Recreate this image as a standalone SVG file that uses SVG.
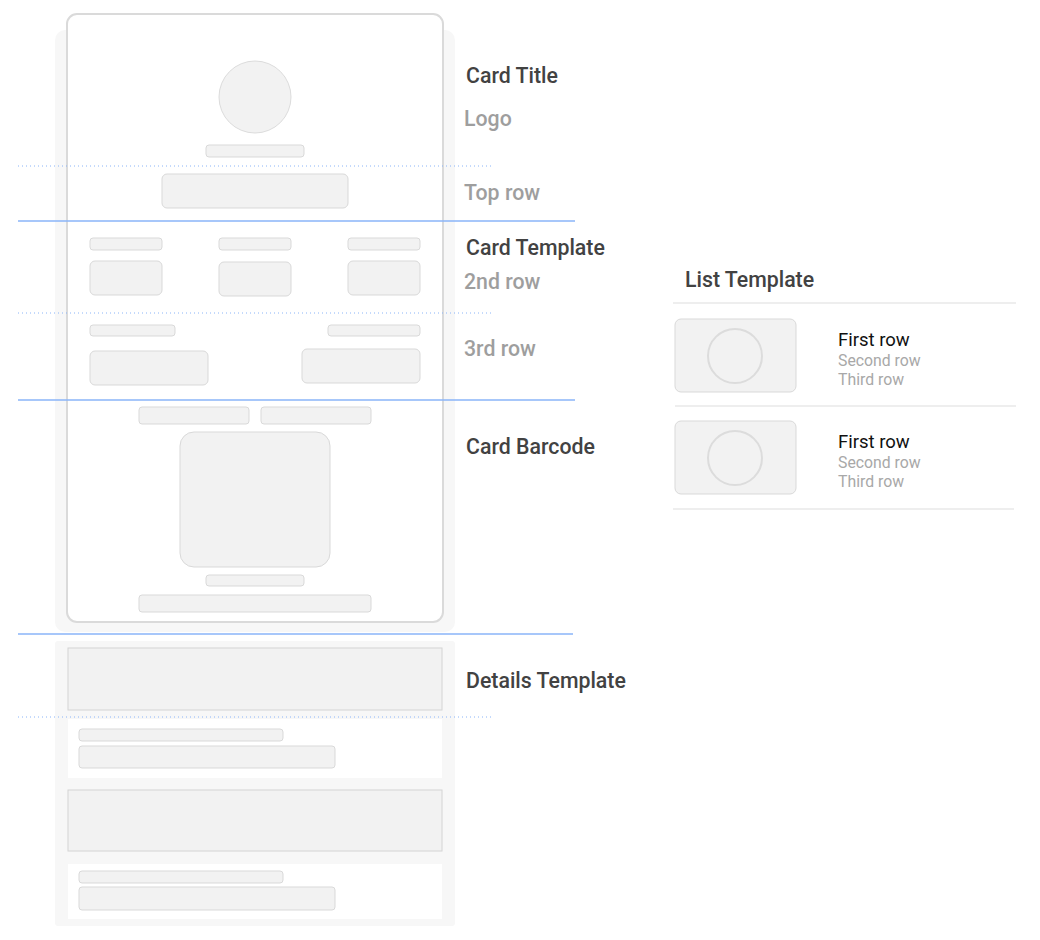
<svg xmlns="http://www.w3.org/2000/svg" width="1040" height="940" viewBox="0 0 1040 940">
<style>
.panel{fill:#f7f7f7}
.card{fill:#fff;stroke:#dadada;stroke-width:2}
.ph{fill:#f2f2f2;stroke:#d9d9d9;stroke-width:1}
.blk{fill:#f2f2f2;stroke:#d4d4d4;stroke-width:1}
.wh{fill:#fff}
.sep{stroke:#8ab4f8;stroke-width:1.5;fill:none}
.dot{stroke:#8ab4f8;stroke-width:1;stroke-dasharray:1 3;fill:none}
.lsep{stroke:#eeeeee;stroke-width:2;fill:none}
.h{font-family:Roboto,"Liberation Sans",sans-serif;font-size:21.3px;font-weight:500;fill:#424242}
.g{font-family:Roboto,"Liberation Sans",sans-serif;font-size:21.3px;font-weight:500;fill:#9e9e9e}
.t1{font-family:Roboto,"Liberation Sans",sans-serif;font-size:18.5px;fill:#111}
.t2{font-family:Roboto,"Liberation Sans",sans-serif;font-size:15.8px;fill:#a8a8a8}
</style>
<rect width="1040" height="940" fill="#fff"/>
<g id="card-panel">
<rect class="panel" x="55" y="30" width="400" height="602" rx="10"/>
<rect class="card" x="67" y="14" width="376" height="608" rx="10"/>
</g>
<g id="card-title">
<circle class="ph" cx="255" cy="97" r="36" stroke-width="2" style="stroke:#dcdcdc"/>
<rect class="ph" x="206" y="145" width="98" height="12" rx="3"/>
<rect class="ph" x="162" y="174" width="186" height="34" rx="5"/>
</g>
<g id="card-template">
<rect class="ph" x="90" y="238" width="72" height="12" rx="3"/>
<rect class="ph" x="219" y="238" width="72" height="12" rx="3"/>
<rect class="ph" x="348" y="238" width="72" height="12" rx="3"/>
<rect class="ph" x="90" y="261" width="72" height="34" rx="5"/>
<rect class="ph" x="219" y="262" width="72" height="34" rx="5"/>
<rect class="ph" x="348" y="261" width="72" height="34" rx="5"/>
<rect class="ph" x="90" y="325" width="85" height="11" rx="3"/>
<rect class="ph" x="328" y="325" width="92" height="11" rx="3"/>
<rect class="ph" x="90" y="351" width="118" height="34" rx="5"/>
<rect class="ph" x="302" y="349" width="118" height="34" rx="5"/>
</g>
<g id="card-barcode">
<rect class="ph" x="139" y="407" width="110" height="17" rx="3"/>
<rect class="ph" x="261" y="407" width="110" height="17" rx="3"/>
<rect class="ph" x="180" y="432" width="150" height="135" rx="14"/>
<rect class="ph" x="206" y="575" width="98" height="11" rx="3"/>
<rect class="ph" x="139" y="595" width="232" height="17" rx="3"/>
</g>
<g id="details-template">
<rect class="panel" x="55" y="641" width="400" height="285" rx="3"/>
<rect class="blk" x="68" y="648" width="374" height="62"/>
<rect class="wh" x="68" y="719" width="374" height="59"/>
<rect class="ph" x="79" y="729" width="204" height="12" rx="3"/>
<rect class="ph" x="79" y="746" width="256" height="22" rx="3"/>
<rect class="blk" x="68" y="790" width="374" height="61"/>
<rect class="wh" x="68" y="864" width="374" height="55"/>
<rect class="ph" x="79" y="871" width="204" height="12" rx="3"/>
<rect class="ph" x="79" y="887" width="256" height="23" rx="3"/>
</g>
<g id="connectors">
<line class="dot" x1="18" y1="166" x2="492" y2="166"/>
<line class="sep" x1="18" y1="221" x2="575" y2="221"/>
<line class="dot" x1="18" y1="313" x2="492" y2="313"/>
<line class="sep" x1="18" y1="400" x2="575" y2="400"/>
<line class="sep" x1="18" y1="634" x2="573" y2="634"/>
<line class="dot" x1="18" y1="717" x2="492" y2="717"/>
</g>
<g id="labels">
<text class="h" x="466" y="83">Card Title</text>
<text class="g" x="464" y="126">Logo</text>
<text class="g" x="464" y="200">Top row</text>
<text class="h" x="466" y="255">Card Template</text>
<text class="g" x="464" y="289">2nd row</text>
<text class="g" x="464" y="356">3rd row</text>
<text class="h" x="466" y="454">Card Barcode</text>
<text class="h" x="466" y="688">Details Template</text>
</g>
<g id="list-template">
<text class="h" x="685" y="287">List Template</text>
<line class="lsep" x1="673" y1="303" x2="1016" y2="303"/>
<rect class="ph" x="675" y="319" width="121" height="73" rx="6"/>
<circle cx="735" cy="356" r="27" fill="none" stroke="#dcdcdc" stroke-width="2"/>
<text class="t1" x="838" y="346">First row</text>
<text class="t2" x="838" y="366">Second row</text>
<text class="t2" x="838" y="385">Third row</text>
<line class="lsep" x1="675" y1="406" x2="1016" y2="406"/>
<rect class="ph" x="675" y="421" width="121" height="73" rx="6"/>
<circle cx="735" cy="458" r="27" fill="none" stroke="#dcdcdc" stroke-width="2"/>
<text class="t1" x="838" y="448">First row</text>
<text class="t2" x="838" y="468">Second row</text>
<text class="t2" x="838" y="487">Third row</text>
<line class="lsep" x1="673" y1="509" x2="1014" y2="509"/>
</g>
</svg>
